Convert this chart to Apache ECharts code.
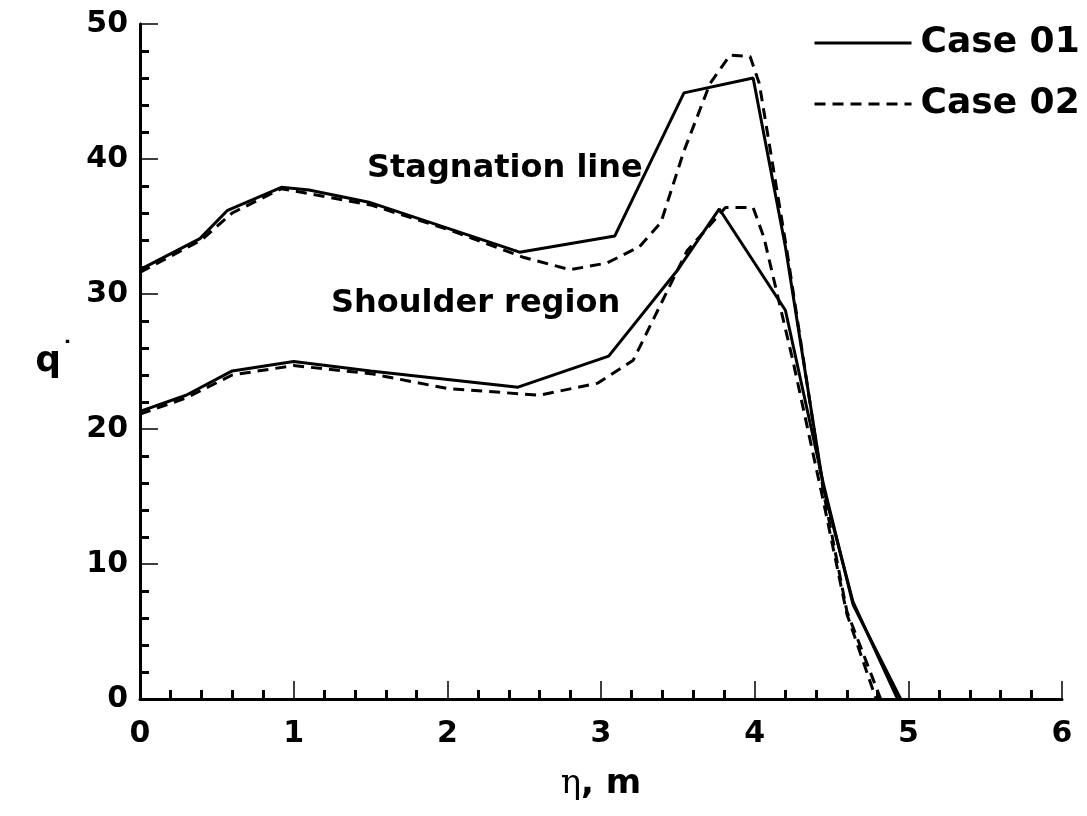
<!DOCTYPE html>
<html>
<head>
<meta charset="utf-8">
<script src="https://cdn.jsdelivr.net/npm/echarts@6/dist/echarts.min.js"></script>
<style>html,body{margin:0;padding:0;background:#fff;}#c{width:1087px;height:816px;}</style>
</head>
<body>
<div id="c"></div>
<script>
// Data: [eta (m), q]
const stagCase01 = [[0,31.8],[0.39,34.1],[0.57,36.2],[0.92,37.9],[1.1,37.7],[1.49,36.8],[2.47,33.1],[3.09,34.3],[3.54,44.9],[3.99,46.0],[4.2,33.5],[4.45,15.5],[4.64,7.2],[4.93,0]];
const stagCase02 = [[0,31.6],[0.4,34.0],[0.6,36.0],[0.92,37.8],[1.5,36.6],[2.0,34.8],[2.5,32.7],[2.8,31.8],[3.04,32.3],[3.25,33.5],[3.39,35.3],[3.54,40.6],[3.71,45.6],[3.84,47.7],[3.97,47.6],[4.03,45.6],[4.21,33.2],[4.45,15.2],[4.6,6.5],[4.82,0]];
const shoulderCase01 = [[0,21.3],[0.3,22.5],[0.6,24.3],[1.0,25.0],[1.5,24.3],[2.46,23.1],[3.05,25.4],[3.5,31.8],[3.77,36.3],[4.2,28.8],[4.45,15.8],[4.64,7.0],[4.95,0]];
const shoulderCase02 = [[0,21.1],[0.3,22.3],[0.6,24.0],[1.0,24.7],[1.5,24.1],[2.0,23.0],[2.6,22.5],[2.98,23.4],[3.21,25.1],[3.4,29.5],[3.56,33.2],[3.81,36.4],[3.99,36.4],[4.06,34.2],[4.25,25.0],[4.45,14.5],[4.6,6.3],[4.79,0]];
const seriesNames = ['Case 01','Case 02'];
const xTicks = [0,1,2,3,4,5,6];
const yTicks = [0,10,20,30,40,50];

const chart = echarts.init(document.getElementById('c'), null, {renderer:'canvas'});
const font = '"DejaVu Sans", Verdana, sans-serif';
function lineSeries(name, data, dashed){
  return {
    type:'line', name:name, data:data, symbol:'none', showSymbol:false, smooth:false,
    lineStyle:{color:'#000', width:3, type: dashed ? [11,7] : 'solid'},
    itemStyle:{color:'#000'},
    z: dashed ? 3 : 4
  };
}
chart.setOption({
  animation:false,
  backgroundColor:'#fff',
  grid:{left:140, right:25, top:24, bottom:117, containLabel:false},
  legend:{
    orient:'vertical', left:808, top:18, itemWidth:97, itemHeight:20, itemGap:21,
    data:seriesNames,
    itemStyle:{color:'rgba(0,0,0,0)', borderWidth:0, opacity:0},
    lineStyle:{width:3},
    textStyle:{fontFamily:font, fontWeight:'bold', fontSize:36, color:'#000', padding:[0,0,0,4], lineHeight:40}
  },
  xAxis:{
    type:'value', min:0, max:6, interval:1,
    axisLine:{show:true, onZero:false, lineStyle:{color:'#000', width:3}},
    axisTick:{show:true, inside:true, length:18, lineStyle:{color:'#000', width:1.5}},
    minorTick:{show:true, splitNumber:5, length:9, lineStyle:{color:'#000', width:3}},
    splitLine:{show:false},
    axisLabel:{fontFamily:font, fontWeight:'bold', fontSize:30, color:'#000', margin:20,
      formatter:function(v){return xTicks.indexOf(v)>=0 ? String(v) : '';}},
    name:'{eta|η}{b|, m}', nameLocation:'middle', nameGap:68,
    nameTextStyle:{rich:{
      eta:{fontFamily:'DejaVu Serif, Liberation Serif, serif', fontSize:34, color:'#000'},
      b:{fontFamily:font, fontWeight:'bold', fontSize:34, color:'#000'}
    }}
  },
  yAxis:{
    type:'value', min:0, max:50, interval:10,
    axisLine:{show:true, onZero:false, lineStyle:{color:'#000', width:3}},
    axisTick:{show:true, inside:true, length:18, lineStyle:{color:'#000', width:1.5}},
    minorTick:{show:true, splitNumber:5, length:9, lineStyle:{color:'#000', width:3}},
    splitLine:{show:false},
    axisLabel:{fontFamily:font, fontWeight:'bold', fontSize:30, color:'#000', margin:12,
      formatter:function(v){return yTicks.indexOf(v)>=0 ? String(v) : '';}},
    name:'{q|q}{d|˙}', nameLocation:'middle', nameGap:66, nameRotate:0,
    nameTextStyle:{rich:{
      q:{fontFamily:font, fontWeight:'bold', fontSize:36, color:'#000'},
      d:{fontFamily:font, fontWeight:'bold', fontSize:26, color:'#000', verticalAlign:'top', padding:[0,0,14,0]}
    }}
  },
  graphic:[
    {type:'text', left:367, top:153, style:{text:'Stagnation line', fontFamily:font, fontWeight:'bold', fontSize:32, fill:'#000'}},
    {type:'text', left:331, top:288, style:{text:'Shoulder region', fontFamily:font, fontWeight:'bold', fontSize:32, fill:'#000'}}
  ],
  series:[
    lineSeries('Case 01', stagCase01, false),
    lineSeries('Case 02', stagCase02, true),
    lineSeries('Case 01', shoulderCase01, false),
    lineSeries('Case 02', shoulderCase02, true)
  ]
});
</script>
</body>
</html>
